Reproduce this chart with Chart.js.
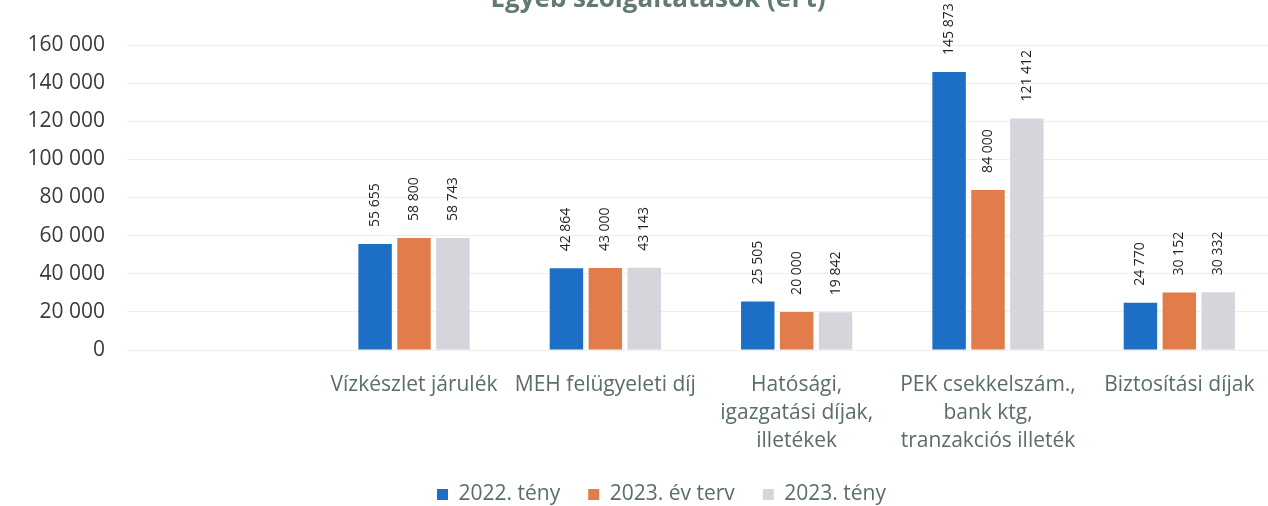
<!DOCTYPE html>
<html>
<head>
<meta charset="utf-8">
<script src="https://cdn.jsdelivr.net/npm/chart.js@4.4.1/dist/chart.umd.min.js"></script>
<style>
  html, body { margin: 0; padding: 0; background: #ffffff; overflow: hidden; }
  #wrap { position: relative; width: 1280px; height: 506px; }
</style>
</head>
<body>
<div id="wrap"><canvas id="c" width="1280" height="506"></canvas></div>
<script>
const chartTitle = "Egyéb szolgáltatások (eFt)";
const categories = [
  "",
  "Vízkészlet járulék",
  "MEH felügyeleti díj",
  ["Hatósági,", "igazgatási díjak,", "illetékek"],
  ["PEK csekkelszám.,", "bank ktg,", "tranzakciós illeték"],
  "Biztosítási díjak"
];
const seriesNames = ["2022. tény", "2023. év terv", "2023. tény"];
const teny2022 = [null, 55655, 42864, 25505, 145873, 24770];
const terv2023 = [null, 58800, 43000, 20000, 84000, 30152];
const teny2023 = [null, 58743, 43143, 19842, 121412, 30332];
const yTicks = [0, 20000, 40000, 60000, 80000, 100000, 120000, 140000, 160000];

const colors = ["#1d6fc6", "#e27c4a", "#d4d6dc"];
const fmt = v => String(v).replace(/\B(?=(\d{3})+(?!\d))/g, " ");
const FONT = "'Open Sans', sans-serif";

const titlePlugin = {
  id: "topTitle",
  afterDraw(chart) {
    const ctx = chart.ctx;
    ctx.save();
    ctx.font = "bold 26px " + FONT;
    ctx.fillStyle = "#627a75";
    ctx.textAlign = "center";
    ctx.textBaseline = "alphabetic";
    ctx.fillText(chartTitle, 658, 7);
    ctx.restore();
  }
};

const legendShift = {
  id: "legendShift",
  afterLayout(chart) {
    if (chart.legend) {
      chart.legend.left += 24;
      chart.legend.right += 24;
    }
  }
};

const valueLabels = {
  id: "valueLabels",
  afterDatasetsDraw(chart) {
    const ctx = chart.ctx;
    ctx.save();
    ctx.font = "14px " + FONT;
    ctx.fillStyle = "#222222";
    chart.data.datasets.forEach((ds, di) => {
      const meta = chart.getDatasetMeta(di);
      meta.data.forEach((bar, i) => {
        const v = ds.data[i];
        if (v === null || v === undefined) return;
        ctx.save();
        ctx.translate(bar.x, bar.y - 17);
        ctx.rotate(-Math.PI / 2);
        ctx.textAlign = "left";
        ctx.textBaseline = "middle";
        ctx.fillText(fmt(v), 0, 0);
        ctx.restore();
      });
    });
    ctx.restore();
  }
};

new Chart(document.getElementById("c"), {
  type: "bar",
  data: {
    labels: categories,
    datasets: [
      { label: seriesNames[0], data: teny2022, backgroundColor: colors[0] },
      { label: seriesNames[1], data: terv2023, backgroundColor: colors[1] },
      { label: seriesNames[2], data: teny2023, backgroundColor: colors[2] }
    ]
  },
  options: {
    responsive: false,
    animation: false,
    devicePixelRatio: 1,
    layout: { padding: { top: 45, right: 5, left: 0, bottom: -9 } },
    datasets: { bar: { categoryPercentage: 0.61, barPercentage: 0.86 } },
    scales: {
      x: {
        grid: { display: false, drawTicks: false },
        border: { display: false },
        ticks: {
          padding: 21,
          maxRotation: 0,
          autoSkip: false,
          color: "#5b6d69",
          font: { family: FONT, size: 21, lineHeight: 1.33 }
        },
        afterFit(scale) { scale.height = 106; }
      },
      y: {
        min: 0,
        max: 160000,
        grid: { color: "#eeeeee", drawTicks: false },
        border: { display: false },
        afterBuildTicks(scale) { scale.ticks = yTicks.map(v => ({ value: v })); },
        afterFit(scale) { scale.width = 127; },
        ticks: {
          padding: 22,
          color: "#3a3a3a",
          font: { family: FONT, size: 21 },
          callback: v => fmt(v)
        }
      }
    },
    plugins: {
      legend: {
        position: "bottom",
        align: "center",
        labels: {
          boxWidth: 11,
          boxHeight: 11,
          padding: 28,
          color: "#5b6d69",
          font: { family: FONT, size: 21 }
        }
      },
      tooltip: { enabled: false }
    }
  },
  plugins: [titlePlugin, legendShift, valueLabels]
});
</script>
</body>
</html>
